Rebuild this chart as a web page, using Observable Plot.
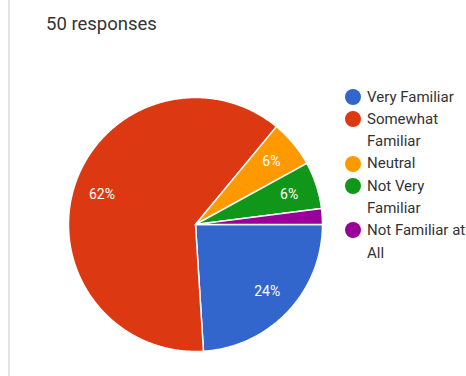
<!DOCTYPE html>
<html>
<head>
<meta charset="utf-8">
<script src="https://cdn.jsdelivr.net/npm/d3@7"></script>
<script src="https://cdn.jsdelivr.net/npm/@observablehq/plot@0.6"></script>
<style>
  html, body { margin: 0; padding: 0; background: #fff; }
  #wrap { position: relative; width: 466px; height: 376px; overflow: hidden; font-family: Roboto, "Noto Sans", sans-serif; }
  #rule { position: absolute; left: 8px; top: 0; width: 2px; height: 376px; background: #e3e3e3; }
  #title { position: absolute; left: 46px; top: 12px; font-size: 18.5px; color: #333; line-height: 24px; }
  #chart { position: absolute; left: 0; top: 0; }
  #legend { position: absolute; left: 345px; top: 85.5px; font-size: 15px; color: #333; line-height: 22.3px; }
  .item { display: flex; align-items: flex-start; }
  .sw { width: 16px; height: 16px; border-radius: 50%; margin-top: 3.15px; margin-right: 6px; flex: none; }
  .lab { width: 99px; }
</style>
</head>
<body>
<div id="wrap">
  <div id="rule"></div>
  <div id="chart"></div>
  <div id="title">50 responses</div>
  <div id="legend"></div>
</div>
<script>
const categories = ["Very Familiar", "Somewhat Familiar", "Neutral", "Not Very Familiar", "Not Familiar at All"];
const percents = [24, 62, 6, 6, 2];
const colors = ["#3366CC", "#DC3912", "#FF9900", "#109618", "#990099"];

const pie = d3.pie().sort(null).startAngle(Math.PI / 2).endAngle(Math.PI / 2 + 2 * Math.PI);
const arcs = pie(percents);

// slice outlines derived from the data
const polys = [];
arcs.forEach((a, i) => {
  const n = Math.max(2, Math.ceil((a.endAngle - a.startAngle) / 0.01));
  polys.push({k: categories[i], x: 0, y: 0});
  for (let j = 0; j <= n; j++) {
    const t = a.startAngle + (a.endAngle - a.startAngle) * j / n;
    polys.push({k: categories[i], x: Math.sin(t), y: Math.cos(t)});
  }
  polys.push({k: categories[i], x: 0, y: 0});
});

const labelR = 0.775;
const labels = arcs
  .map((a, i) => ({v: percents[i], m: (a.startAngle + a.endAngle) / 2}))
  .filter(d => d.v >= 5)
  .map(d => ({text: d.v + "%", x: labelR * Math.sin(d.m), y: labelR * Math.cos(d.m)}));

const chart = Plot.plot({
  width: 466,
  height: 376,
  marginLeft: 68,
  marginRight: 144,
  marginTop: 97,
  marginBottom: 25,
  x: {axis: null, domain: [-1, 1]},
  y: {axis: null, domain: [-1, 1]},
  color: {domain: categories, range: colors},
  style: {background: "transparent", overflow: "visible"},
  marks: [
    Plot.line(polys, {x: "x", y: "y", z: "k", fill: "k", stroke: "white", strokeWidth: 1.5, curve: "linear"}),
    Plot.text(labels, {x: "x", y: "y", text: "text", fill: "white", fontSize: 14, fontFamily: "Roboto, sans-serif"})
  ]
});
document.getElementById("chart").appendChild(chart);

const legend = document.getElementById("legend");
categories.forEach((c, i) => {
  const item = document.createElement("div");
  item.className = "item";
  const sw = document.createElement("div");
  sw.className = "sw";
  sw.style.background = colors[i];
  const lab = document.createElement("div");
  lab.className = "lab";
  lab.textContent = c;
  item.appendChild(sw);
  item.appendChild(lab);
  legend.appendChild(item);
});
</script>
</body>
</html>
